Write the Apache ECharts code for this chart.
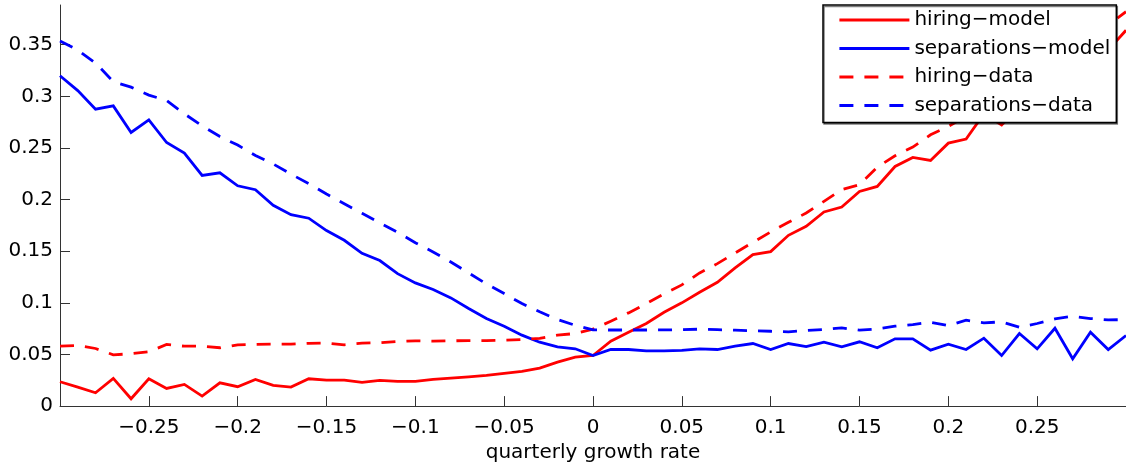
<!DOCTYPE html>
<html>
<head>
<meta charset="utf-8">
<script src="https://cdn.jsdelivr.net/npm/echarts@6/dist/echarts.min.js"></script>
<style>
html,body{margin:0;padding:0;background:#fff;}
#chart{width:1126px;height:468px;}
</style>
</head>
<body>
<div id="chart"></div>
<script>
// x values: quarterly growth rate, -0.30 .. 0.30 step 0.01
const xValues = [-0.30,-0.29,-0.28,-0.27,-0.26,-0.25,-0.24,-0.23,-0.22,-0.21,-0.20,-0.19,-0.18,-0.17,-0.16,-0.15,-0.14,-0.13,-0.12,-0.11,-0.10,-0.09,-0.08,-0.07,-0.06,-0.05,-0.04,-0.03,-0.02,-0.01,0.00,0.01,0.02,0.03,0.04,0.05,0.06,0.07,0.08,0.09,0.10,0.11,0.12,0.13,0.14,0.15,0.16,0.17,0.18,0.19,0.20,0.21,0.22,0.23,0.24,0.25,0.26,0.27,0.28,0.29,0.30];

const hiringModel = [0.0236,0.0184,0.0129,0.0268,0.0071,0.0265,0.0171,0.0210,0.0097,0.0226,0.0188,0.0258,0.0200,0.0184,0.0265,0.0251,0.0251,0.0229,0.0249,0.0239,0.0240,0.0258,0.0271,0.0284,0.0297,0.0316,0.0336,0.0368,0.0426,0.0474,0.0490,0.0629,0.0716,0.0800,0.0909,0.1000,0.1103,0.1199,0.1338,0.1467,0.1496,0.1654,0.1741,0.1880,0.1928,0.2079,0.2128,0.2321,0.2408,0.2379,0.2547,0.2586,0.2830,0.2724,0.2900,0.3000,0.3100,0.3200,0.3350,0.3450,0.3640];

const separationsModel = [0.3200,0.3056,0.2876,0.2908,0.2650,0.2773,0.2553,0.2450,0.2234,0.2260,0.2134,0.2096,0.1945,0.1854,0.1820,0.1700,0.1606,0.1480,0.1410,0.1283,0.1193,0.1129,0.1048,0.0945,0.0848,0.0774,0.0687,0.0619,0.0574,0.0555,0.0490,0.0548,0.0548,0.0535,0.0535,0.0540,0.0555,0.0548,0.0580,0.0606,0.0548,0.0606,0.0577,0.0619,0.0574,0.0623,0.0565,0.0652,0.0652,0.0542,0.0600,0.0548,0.0658,0.0490,0.0703,0.0555,0.0754,0.0458,0.0716,0.0548,0.0684];

const hiringData = [0.0580,0.0587,0.0558,0.0497,0.0507,0.0526,0.0597,0.0580,0.0580,0.0565,0.0594,0.0597,0.0600,0.0600,0.0608,0.0611,0.0594,0.0610,0.0613,0.0625,0.0632,0.0629,0.0632,0.0635,0.0635,0.0639,0.0645,0.0655,0.0687,0.0703,0.0745,0.0822,0.0903,0.0993,0.1087,0.1174,0.1290,0.1380,0.1483,0.1586,0.1687,0.1780,0.1870,0.1983,0.2096,0.2144,0.2315,0.2425,0.2509,0.2628,0.2708,0.2810,0.2920,0.3000,0.3100,0.3200,0.3300,0.3420,0.3550,0.3690,0.3820];

const separationsData = [0.3537,0.3448,0.3323,0.3143,0.3089,0.3012,0.2960,0.2831,0.2715,0.2611,0.2528,0.2428,0.2345,0.2247,0.2155,0.2054,0.1960,0.1867,0.1774,0.1683,0.1583,0.1493,0.1396,0.1290,0.1184,0.1090,0.0993,0.0913,0.0838,0.0783,0.0739,0.0737,0.0737,0.0737,0.0738,0.0740,0.0745,0.0740,0.0735,0.0730,0.0725,0.0719,0.0732,0.0742,0.0758,0.0735,0.0748,0.0774,0.0790,0.0812,0.0780,0.0832,0.0806,0.0816,0.0764,0.0800,0.0845,0.0870,0.0848,0.0835,0.0838];

const xTicks = [-0.25,-0.20,-0.15,-0.10,-0.05,0,0.05,0.10,0.15,0.20,0.25];
const yTicks = [0,0.05,0.10,0.15,0.20,0.25,0.30,0.35];
const xLabel = 'quarterly growth rate';
const seriesNames = ['hiring\u2212model','separations\u2212model','hiring\u2212data','separations\u2212data'];

const FONT = 'DejaVu Sans';
function fmt(v){
  const r = parseFloat(Number(v).toFixed(2));
  if (r < 0) return '\u2212' + String(Math.abs(r));
  return String(r);
}
function pairs(ys){ return xValues.map((x,i)=>[x, ys[i]]); }

function mk(name, ys, color, dashed){
  return {
    name: name,
    type: 'line',
    data: pairs(ys),
    symbol: 'none',
    showSymbol: false,
    smooth: false,
    animation: false,
    lineStyle: { color: color, width: 2.8, type: dashed ? [14, 11] : 'solid', cap: 'butt', join: 'miter' },
    itemStyle: { color: color },
    emphasis: { disabled: true }
  };
}

const chart = echarts.init(document.getElementById('chart'), null, {renderer:'canvas'});
chart.setOption({
  animation: false,
  backgroundColor: '#fff',
  grid: { left: 60, right: 0, top: 5, bottom: 61, containLabel: false },
  legend: {
    orient: 'vertical',
    left: 823,
    top: 5,
    padding: [5, 6, 7, 15],
    itemGap: 8.5,
    itemWidth: 70,
    itemHeight: 20,
    backgroundColor: '#fff',
    borderColor: '#000',
    borderWidth: 1.5,
    shadowColor: 'rgba(0,0,0,0.5)',
    shadowOffsetX: 1,
    shadowOffsetY: 1.5,
    shadowBlur: 0,
    itemStyle: { opacity: 0 },
    lineStyle: { width: 2.8 },
    textStyle: { fontFamily: FONT, fontSize: 20, color: '#000' },
    data: seriesNames.map(n=>({name:n})),
    selectedMode: false
  },
  xAxis: {
    type: 'value',
    min: -0.3,
    max: 0.3,
    interval: 0.05,
    name: xLabel,
    nameLocation: 'middle',
    nameGap: 36,
    nameTextStyle: { fontFamily: FONT, fontSize: 20, color: '#000' },
    axisLine: { show: true, onZero: false, lineStyle: { color: '#333', width: 1 } },
    axisTick: { show: true, inside: true, length: 10, customValues: xTicks, lineStyle: { color: '#333', width: 1 } },
    axisLabel: { show: true, margin: 12, customValues: xTicks, fontFamily: FONT, fontSize: 20, color: '#000', formatter: fmt },
    splitLine: { show: false }
  },
  yAxis: {
    type: 'value',
    min: 0,
    max: 0.3885,
    interval: 0.05,
    axisLine: { show: true, onZero: false, lineStyle: { color: '#333', width: 1 } },
    axisTick: { show: true, inside: true, length: 10, customValues: yTicks, lineStyle: { color: '#333', width: 1 } },
    axisLabel: { show: true, margin: 7, customValues: yTicks, fontFamily: FONT, fontSize: 20, color: '#000', formatter: fmt },
    splitLine: { show: false }
  },
  series: [
    mk(seriesNames[0], hiringModel, '#ff0000', false),
    mk(seriesNames[1], separationsModel, '#0000ff', false),
    mk(seriesNames[2], hiringData, '#ff0000', true),
    mk(seriesNames[3], separationsData, '#0000ff', true)
  ]
});
</script>
</body>
</html>
